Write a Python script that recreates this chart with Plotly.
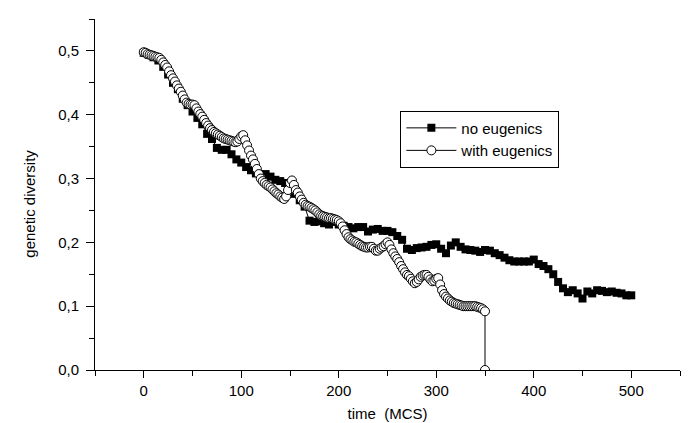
import plotly.graph_objects as go

# ---- data ----
t_no = list(range(0, 501, 5))
div_no = [
    0.497, 0.494, 0.490, 0.485, 0.475, 0.463, 0.450, 0.440, 0.425, 0.415,
    0.405, 0.395, 0.385, 0.370, 0.362, 0.348, 0.345, 0.345, 0.338, 0.330,
    0.325, 0.318, 0.313, 0.308, 0.306, 0.307, 0.303, 0.298, 0.296, 0.293,
    0.284, 0.276, 0.266, 0.256, 0.234, 0.232, 0.233, 0.230, 0.228, 0.232,
    0.228, 0.226, 0.224, 0.222, 0.224, 0.224, 0.217, 0.220, 0.221, 0.218,
    0.218, 0.216, 0.210, 0.204, 0.190, 0.188, 0.191, 0.192, 0.193, 0.196,
    0.197, 0.190, 0.183, 0.195, 0.200, 0.193, 0.189, 0.188, 0.187, 0.185,
    0.188, 0.187, 0.183, 0.180, 0.176, 0.172, 0.170, 0.170, 0.170, 0.170,
    0.173, 0.166, 0.163, 0.158, 0.150, 0.138, 0.128, 0.122, 0.125, 0.120,
    0.112, 0.123, 0.120, 0.125, 0.124, 0.122, 0.123, 0.121, 0.120, 0.117,
    0.117,
]

t_eu = list(range(0, 351, 2)) + [350]
div_eu = [
    0.498, 0.497, 0.495, 0.494, 0.493, 0.492, 0.491, 0.490, 0.489,
    0.486, 0.482, 0.478, 0.474, 0.468, 0.462, 0.457,
    0.452, 0.446, 0.441, 0.436, 0.430, 0.424, 0.419,
    0.417, 0.416, 0.416, 0.415, 0.410, 0.405, 0.401,
    0.397, 0.392, 0.387, 0.383, 0.379, 0.376, 0.373,
    0.371, 0.369, 0.367, 0.365, 0.363, 0.362, 0.361,
    0.360, 0.359, 0.358, 0.357, 0.358, 0.362, 0.366,
    0.368, 0.360, 0.352, 0.344, 0.336, 0.330, 0.323,
    0.315, 0.307, 0.300, 0.296, 0.293, 0.290, 0.288,
    0.286, 0.283, 0.280, 0.277, 0.275, 0.272, 0.270,
    0.268, 0.272, 0.282, 0.293, 0.297, 0.290, 0.282,
    0.278, 0.272, 0.267, 0.262, 0.259, 0.257, 0.256,
    0.254, 0.252, 0.250, 0.247, 0.244, 0.242, 0.241,
    0.240, 0.239, 0.238, 0.238, 0.237, 0.236, 0.235,
    0.233, 0.230, 0.225, 0.219, 0.213, 0.208, 0.205,
    0.203, 0.201, 0.200, 0.198, 0.196, 0.194, 0.193,
    0.192, 0.192, 0.193, 0.193, 0.190, 0.187, 0.187,
    0.190, 0.192, 0.194, 0.197, 0.200, 0.196, 0.189,
    0.183, 0.178, 0.174, 0.169, 0.163, 0.158, 0.153,
    0.149, 0.147, 0.143, 0.139, 0.136, 0.138, 0.142,
    0.146, 0.148, 0.149, 0.149, 0.146, 0.142, 0.139,
    0.140, 0.143, 0.144, 0.134, 0.125, 0.119, 0.115,
    0.112, 0.109, 0.107, 0.105, 0.104, 0.103, 0.102,
    0.101, 0.100, 0.100, 0.100, 0.100, 0.100, 0.100,
    0.100, 0.099, 0.098, 0.097, 0.095, 0.092,
    0.000,
]

x_ticks = [0, 100, 200, 300, 400, 500]
y_ticks = [0.0, 0.1, 0.2, 0.3, 0.4, 0.5]

FONT = "Liberation Sans, Arial, sans-serif"

fig = go.Figure()
fig.add_trace(go.Scatter(
    x=t_no, y=div_no, mode="lines+markers", name="no eugenics",
    line=dict(color="black", width=1),
    marker=dict(symbol="square", size=8, color="black", line=dict(width=0)),
))
fig.add_trace(go.Scatter(
    x=t_eu, y=div_eu, mode="lines+markers", name="with eugenics",
    line=dict(color="black", width=1),
    marker=dict(symbol="circle", size=9, color="white", line=dict(color="black", width=1)),
))

fig.update_layout(
    width=690, height=423,
    margin=dict(l=87, r=18, t=11, b=59),
    paper_bgcolor="white", plot_bgcolor="white",
    separators=", ",
    font=dict(family=FONT, size=15, color="black"),
    showlegend=True,
    legend=dict(
        x=0.522, y=0.739, xanchor="left", yanchor="top",
        bordercolor="black", borderwidth=1, bgcolor="white",
        font=dict(family=FONT, size=15, color="black"),
        itemwidth=50, tracegroupgap=0,
    ),
    xaxis=dict(
        range=[-50, 550], showgrid=False, zeroline=False,
        showline=True, linecolor="black", linewidth=1,
        ticks="outside", ticklen=7, tickwidth=1, tickcolor="black",
        tickvals=x_ticks,
        minor=dict(dtick=50, tick0=-50, ticks="outside", ticklen=5, tickcolor="black"),
        title=dict(text="time  (MCS)", font=dict(size=15), standoff=10),
        tickfont=dict(size=15),
    ),
    yaxis=dict(
        range=[0, 0.55], showgrid=False, zeroline=False,
        showline=True, linecolor="black", linewidth=1,
        ticks="outside", ticklen=8, tickwidth=1, tickcolor="black",
        tickvals=y_ticks, tickformat=".1f", ticklabelstandoff=4,
        minor=dict(dtick=0.05, tick0=0, ticks="outside", ticklen=5, tickcolor="black"),
        tickfont=dict(size=15),
    ),
    annotations=[dict(
        text="genetic diversity", textangle=-90,
        xref="paper", yref="paper", x=-0.1116, y=0.473,
        xanchor="center", yanchor="middle", showarrow=False,
        font=dict(family=FONT, size=15, color="black"),
    )],
)

fig.write_html("out.html")
